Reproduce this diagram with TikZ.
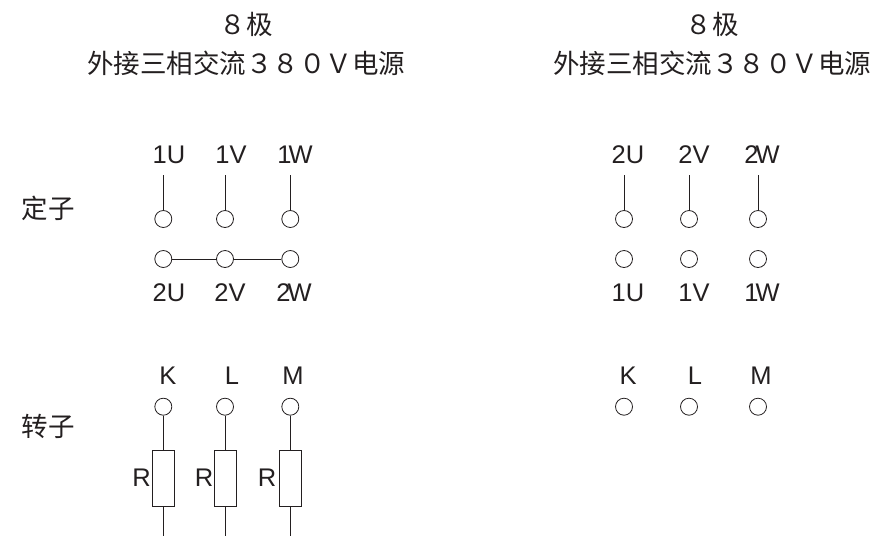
\documentclass[tikz,border=0pt]{standalone}
\usepackage{fontspec}
\setmainfont{Liberation Sans}
\newfontfamily\cjk{Noto Sans CJK SC}
\definecolor{WireBlack}{HTML}{231F20}
\begin{document}
\begin{tikzpicture}[
      x=1pt, y=-1pt,
      every node/.style={align=center, text=WireBlack},
      terminal/.style={draw=WireBlack, circle, line width=0.8pt, inner sep=0pt, minimum size=17pt},
      resistor/.style={draw=WireBlack, line width=0.8pt, inner sep=0pt, minimum width=22pt, minimum height=56pt},
      pin/.style={font=\fontsize{25.5}{25.5}\selectfont, inner sep=0pt},
      heading/.style={font=\cjk\fontsize{26.5}{39}\selectfont, inner sep=0pt},
      wire/.style={WireBlack, line width=0.8pt}
    ]
      \useasboundingbox (0,0) rectangle (874,536);

      % Titles
      \node[heading] (titleA) at (246,44) {８极\\外接三相交流３８０Ｖ电源};
      \node[heading] (titleB) at (712,44) {８极\\外接三相交流３８０Ｖ电源};
      \node[heading] (stator) at (48,208) {定子};
      \node[heading] (rotor) at (48,426) {转子};

      % Left stator
      \node[pin] (pinAU) at (169,155) {1U};
      \node[pin] (pinAV) at (231,155) {1V};
      \node[pin] (pinAW) at (295,155) {1\kern-3pt W};
      \coordinate (topAU) at (163.3,175);
      \coordinate (topAV) at (225,175);
      \coordinate (topAW) at (290.3,175);
      \node[terminal] (upAU) at (163.3,219) {};
      \node[terminal] (upAV) at (225,219) {};
      \node[terminal] (upAW) at (290.3,219) {};
      \node[terminal] (lowAU) at (163.3,259) {};
      \node[terminal] (lowAV) at (225,259) {};
      \node[terminal] (lowAW) at (290.3,259) {};
      \node[pin] (subAU) at (169,293) {2U};
      \node[pin] (subAV) at (230,293) {2V};
      \node[pin] (subAW) at (294,293) {2\kern-3pt W};

      \draw[wire] (topAU) -- (upAU);
      \draw[wire] (topAV) -- (upAV);
      \draw[wire] (topAW) -- (upAW);
      \draw[wire] (lowAU) -- (lowAV);
      \draw[wire] (lowAV) -- (lowAW);

      % Left rotor
      \node[pin] (pinAK) at (168,376) {K};
      \node[pin] (pinAL) at (232,376) {L};
      \node[pin] (pinAM) at (293,376) {M};
      \node[terminal] (ringAK) at (163.3,406.7) {};
      \node[terminal] (ringAL) at (225,406.7) {};
      \node[terminal] (ringAM) at (290.3,406.7) {};
      \node[resistor] (resAK) at (163.3,478) {};
      \node[resistor] (resAL) at (225,478) {};
      \node[resistor] (resAM) at (290.3,478) {};
      \node[pin] (labAK) at (141.7,478) {R};
      \node[pin] (labAL) at (204,478) {R};
      \node[pin] (labAM) at (267,478) {R};
      \coordinate (endAK) at (163.3,536);
      \coordinate (endAL) at (225,536);
      \coordinate (endAM) at (290.3,536);

      \draw[wire] (ringAK) -- (resAK);
      \draw[wire] (ringAL) -- (resAL);
      \draw[wire] (ringAM) -- (resAM);
      \draw[wire] (resAK) -- (endAK);
      \draw[wire] (resAL) -- (endAL);
      \draw[wire] (resAM) -- (endAM);

      % Right stator
      \node[pin] (pinBU) at (628,155) {2U};
      \node[pin] (pinBV) at (694,155) {2V};
      \node[pin] (pinBW) at (762,155) {2\kern-3pt W};
      \coordinate (topBU) at (624,175);
      \coordinate (topBV) at (689,175);
      \coordinate (topBW) at (758,175);
      \node[terminal] (upBU) at (624,219) {};
      \node[terminal] (upBV) at (689,219) {};
      \node[terminal] (upBW) at (758,219) {};
      \node[terminal] (lowBU) at (624,259) {};
      \node[terminal] (lowBV) at (689,259) {};
      \node[terminal] (lowBW) at (758,259) {};
      \node[pin] (subBU) at (628,293) {1U};
      \node[pin] (subBV) at (694,293) {1V};
      \node[pin] (subBW) at (762,293) {1\kern-3pt W};

      \draw[wire] (topBU) -- (upBU);
      \draw[wire] (topBV) -- (upBV);
      \draw[wire] (topBW) -- (upBW);

      % Right rotor
      \node[pin] (pinBK) at (628,376) {K};
      \node[pin] (pinBL) at (695,376) {L};
      \node[pin] (pinBM) at (761,376) {M};
      \node[terminal] (ringBK) at (624,406.7) {};
      \node[terminal] (ringBL) at (689,406.7) {};
      \node[terminal] (ringBM) at (758,406.7) {};

    \end{tikzpicture}
\end{document}
